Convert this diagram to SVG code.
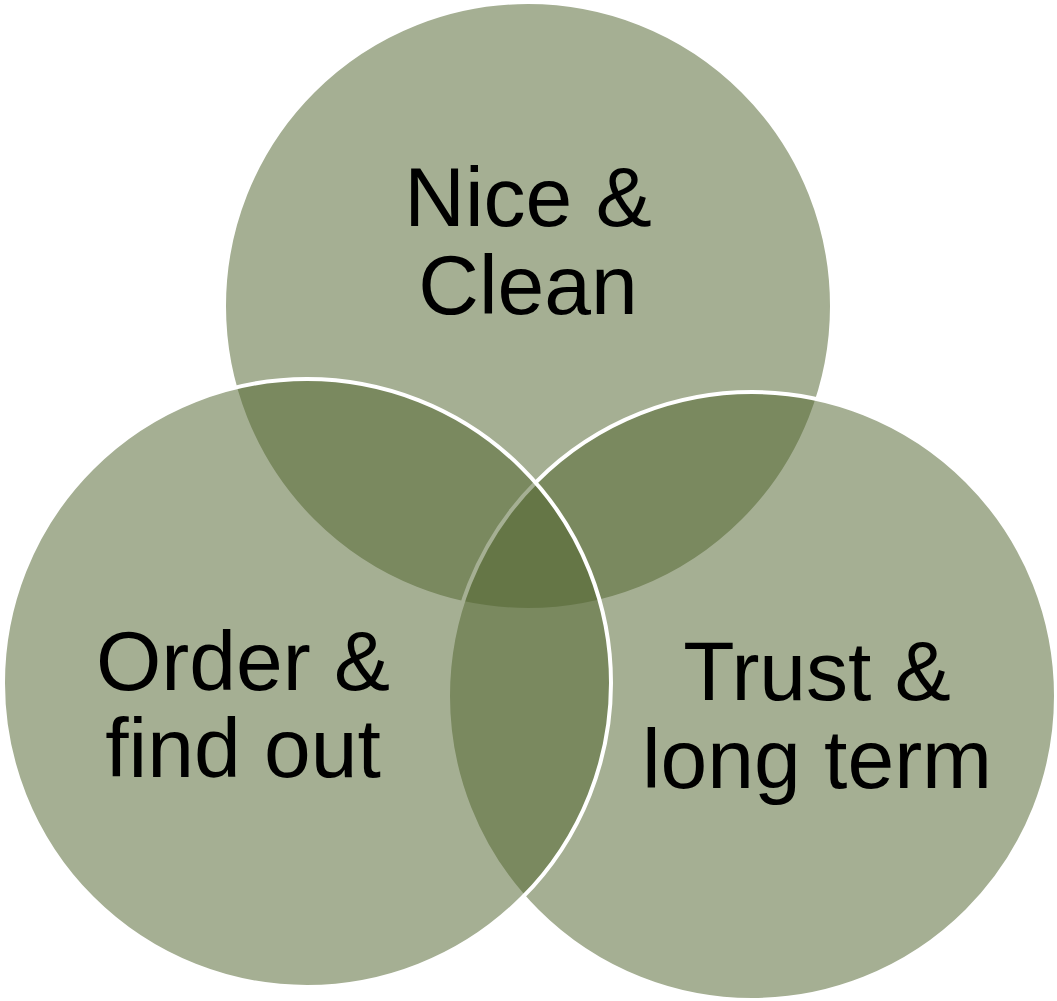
<svg xmlns="http://www.w3.org/2000/svg" width="1057" height="1001" viewBox="0 0 1057 1001">
<style>
.c{fill:rgb(83,102,48);fill-opacity:0.52;stroke:#fff;stroke-width:4}
.t{font-family:"Liberation Sans",Arial,sans-serif;font-size:84px;fill:#000;text-anchor:middle}
</style>
<rect width="1057" height="1001" fill="#fff"/>
<g id="nice-clean"><circle class="c" cx="528" cy="306" r="304"/></g>
<g id="trust-long-term"><circle class="c" cx="752" cy="696" r="304"/></g>
<g id="order-find-out"><circle class="c" cx="307" cy="683" r="304"/></g>
<g id="connectors"></g>
<g id="labels">
<text class="t" x="528" y="226">Nice &amp;</text>
<text class="t" x="528" y="314">Clean</text>
<text class="t" x="243" y="690">Order &amp;</text>
<text class="t" x="243" y="777">find out</text>
<text class="t" x="817" y="700">Trust &amp;</text>
<text class="t" x="817" y="788">long term</text>
</g>
</svg>
